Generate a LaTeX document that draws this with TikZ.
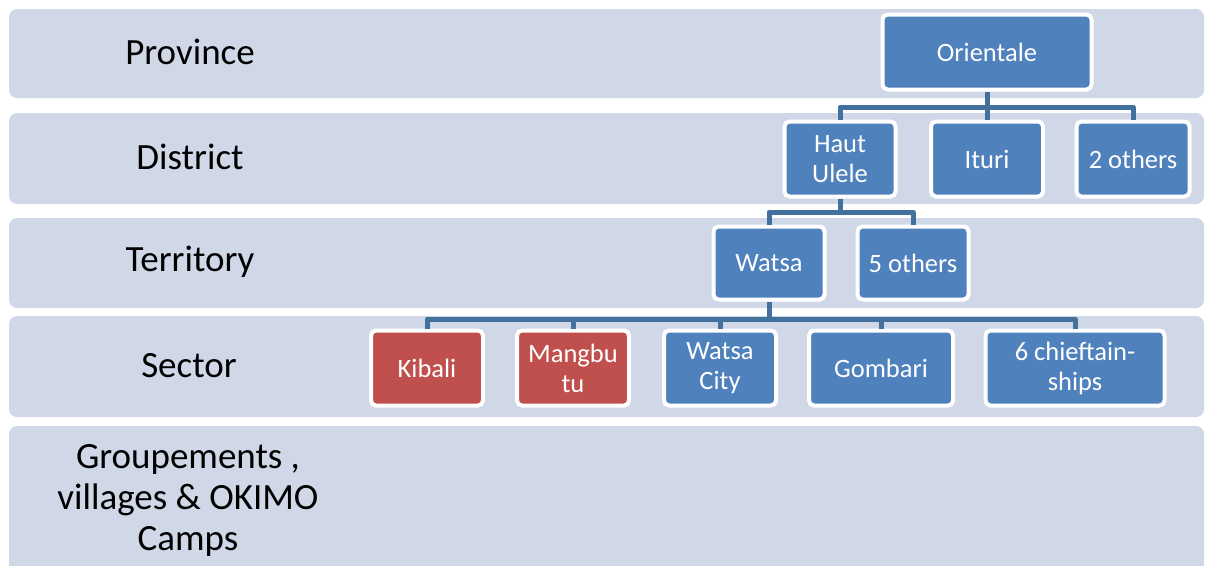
\documentclass[tikz,border=0pt]{standalone}
\usepackage{fontspec}
\setmainfont{Carlito}
\definecolor{bandgray}{HTML}{D0D8E8}
\definecolor{unitblue}{HTML}{4F81BD}
\definecolor{unitred}{HTML}{C0504D}
\definecolor{linkblue}{HTML}{41719C}
\begin{document}
\begin{tikzpicture}[x=1pt,y=-1pt,
  band/.style={fill=bandgray,rounded corners=8pt},
  lvl/.style={font=\fontsize{37}{41}\selectfont,align=center,text=black},
  unit/.style={draw=white,line width=4pt,fill=unitblue,rounded corners=5pt,text=white,
    minimum width=111pt,minimum height=75pt,align=center,inner sep=2pt,
    font=\fontsize{26.5}{30}\selectfont},
  hot/.style={unit,fill=unitred},
  link/.style={draw=linkblue,line width=5pt,line join=round}]
  \useasboundingbox (0,0) rectangle (1206,565);
  \clip (0,0) rectangle (1206,565);
  % rows
  \fill[band] (9,9) rectangle (1204,98);
  \fill[band] (9,113) rectangle (1204,204);
  \fill[band] (9,218) rectangle (1204,308);
  \fill[band] (9,316) rectangle (1204,417);
  \fill[band] (9,426) rectangle (1204,590);
  \node[lvl] (lprov) at (190,52) {Province};
  \node[lvl] (ldist) at (190,157) {District};
  \node[lvl] (lterr) at (190,262) {Territory};
  \node[lvl] (lsect) at (189,366) {Sector};
  \node[lvl] (lgrp) at (188,500) {Groupements ,\\villages \& OKIMO\\Camps};
  % units
  \node[unit,minimum width=209pt] (ori) at (987,52) {Orientale};
  \node[unit] (hu) at (840,159) {Haut\\Ulele};
  \node[unit,minimum width=112pt] (itu) at (987,159) {Ituri};
  \node[unit,minimum width=113pt] (dot) at (1133,159) {2 others};
  \node[unit,minimum height=73pt] (wat) at (769,263) {Watsa};
  \node[unit,minimum height=73pt] (tot) at (913,263) {5 others};
  \node[hot,minimum width=112pt] (kib) at (427,368) {Kibali};
  \node[hot,minimum width=112pt] (man) at (573,368) {Mangbu\\tu};
  \node[unit,minimum width=112pt] (wac) at (720,368) {Watsa\\City};
  \node[unit,minimum width=144pt] (gom) at (881,368) {Gombari};
  \node[unit,minimum width=179pt] (chf) at (1075,368) {6 chieftain-\\ships};
  % links
  \coordinate (j1) at (987,107);
  \coordinate (j2) at (840,212);
  \coordinate (j3) at (769,319);
  \draw[link] (ori) -- (j1);
  \draw[link] (j1) -| (hu);
  \draw[link] (j1) -- (itu);
  \draw[link] (j1) -| (dot);
  \draw[link] (hu) -- (j2);
  \draw[link] (j2) -| (wat);
  \draw[link] (j2) -| (tot);
  \draw[link] (wat) -- (j3);
  \draw[link] (j3) -| (kib);
  \draw[link] (j3) -| (man);
  \draw[link] (j3) -| (wac);
  \draw[link] (j3) -| (gom);
  \draw[link] (j3) -| (chf);
\end{tikzpicture}
\end{document}
